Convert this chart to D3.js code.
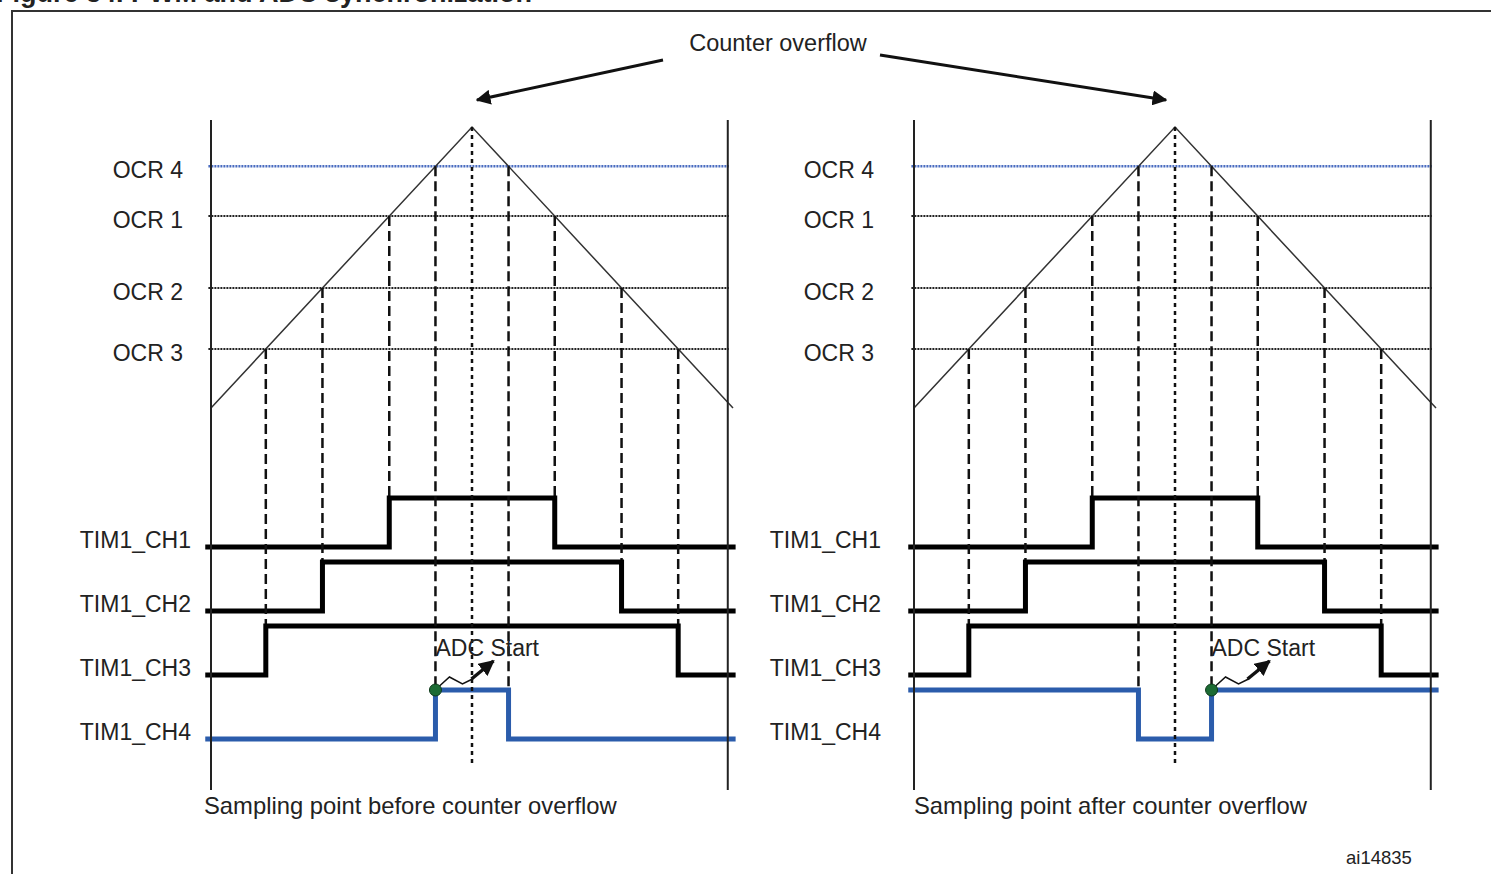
<!DOCTYPE html>
<html>
<head>
<meta charset="utf-8">
<script src="https://cdn.jsdelivr.net/npm/d3@7"></script>
<style>
body { margin: 0; background: #fff; }
text { font-family: "Liberation Sans", Arial, sans-serif; fill: #222; }
</style>
</head>
<body>
<svg id="chart" width="1491" height="874"></svg>
<script>
// values
var ocrNames = ["OCR 4", "OCR 1", "OCR 2", "OCR 3"];
var ocrValues = [86, 68.3, 42.7, 21];
var counterTime = [0, 50, 100];
var counterValue = [0, 100, 0];
var channelNames = ["TIM1_CH1", "TIM1_CH2", "TIM1_CH3", "TIM1_CH4"];
var channelOcr = ["OCR 1", "OCR 2", "OCR 3", "OCR 4"];
var panelCaptions = ["Sampling point before counter overflow", "Sampling point after counter overflow"];
var ch4Inverted = [false, true];

var width = 1491, height = 874;
var svg = d3.select("#chart");

var yCount = d3.scaleLinear().domain([0, 100]).range([408, 127]);
var ySig = d3.scalePoint().domain(channelNames).range([547, 739]);
var sigHeight = 49;
var panelRanges = [[211, 733], [914, 1436]];
var labelRight = [[183, 191], [874, 881]];

function ocrOf(name) { return ocrValues[ocrNames.indexOf(name)]; }
function crossUp(v) {
    return counterTime[0] + (v - counterValue[0]) / (counterValue[1] - counterValue[0]) * (counterTime[1] - counterTime[0]);
}
function crossDown(v) {
    return counterTime[1] + (v - counterValue[1]) / (counterValue[2] - counterValue[1]) * (counterTime[2] - counterTime[1]);
}

// frame + title (cut by the page top, as in the source)
svg.append("text")
    .attr("x", -4).attr("y", 2)
    .style("font-weight", "bold").style("font-size", "27px")
    .text("Figure 34. PWM and ADC synchronization");
svg.append("path")
    .attr("d", "M12," + height + "V11H" + width)
    .attr("fill", "none").attr("stroke", "#333").attr("stroke-width", 2);

var defs = svg.append("defs");
defs.append("marker").attr("id", "head")
    .attr("viewBox", "0 0 10 10").attr("refX", 9).attr("refY", 5)
    .attr("markerWidth", 5).attr("markerHeight", 5).attr("orient", "auto")
    .append("path").attr("d", "M0,0L10,5L0,10z").attr("fill", "#111");
defs.append("marker").attr("id", "head2")
    .attr("viewBox", "0 0 10 10").attr("refX", 9).attr("refY", 5)
    .attr("markerWidth", 4.5).attr("markerHeight", 4.5).attr("orient", "auto")
    .append("path").attr("d", "M0,0L10,5L0,10z").attr("fill", "#111");

var line = d3.line().curve(d3.curveLinear);

panelRanges.forEach(function (range, p) {
    var x = d3.scaleLinear().domain([0, 100]).range(range);
    var g = svg.append("g");

    // compare levels
    ocrNames.forEach(function (name, i) {
        var yy = yCount(ocrValues[i]);
        g.append("line")
            .attr("x1", x(-0.5)).attr("x2", x(99.2))
            .attr("y1", yy).attr("y2", yy)
            .attr("stroke", i == 0 ? "#4a6cc0" : "#222")
            .attr("stroke-width", i == 0 ? 2.5 : 2)
            .attr("stroke-dasharray", "2,1");
        g.append("text")
            .attr("x", labelRight[p][0]).attr("y", yy + 4)
            .attr("dy", "0.35em").attr("text-anchor", "end")
            .style("font-size", "23px")
            .text(name);
    });

    // counter
    g.append("path")
        .datum(counterTime.map(function (t, i) { return [t, counterValue[i]]; }))
        .attr("fill", "none").attr("stroke", "#333").attr("stroke-width", 1.5)
        .attr("d", line.x(function (d) { return x(d[0]); }).y(function (d) { return yCount(d[1]); }));

    // dashed lines + channels
    channelNames.forEach(function (ch, c) {
        var v = ocrOf(channelOcr[c]);
        var tU = crossUp(v), tD = crossDown(v);
        var lo = ySig(ch), hi = lo - sigHeight;
        var inv = (c == 3 && ch4Inverted[p]);
        var a = inv ? hi : lo, b = inv ? lo : hi;

        [tU, tD].forEach(function (t) {
            g.append("line")
                .attr("x1", x(t)).attr("x2", x(t))
                .attr("y1", yCount(v)).attr("y2", hi)
                .attr("stroke", "#111").attr("stroke-width", 2.5)
                .attr("stroke-dasharray", "10,5");
        });

        var pts = [[-1.1, a], [tU, a], [tU, b], [tD, b], [tD, a], [100.5, a]];
        g.append("path")
            .datum(pts)
            .attr("fill", "none")
            .attr("stroke", c == 3 ? "#2b5cab" : "#000")
            .attr("stroke-width", 5)
            .attr("stroke-linejoin", "miter")
            .attr("d", d3.line().x(function (d) { return x(d[0]); }).y(function (d) { return d[1]; }));

        g.append("text")
            .attr("x", labelRight[p][1]).attr("y", lo - 7)
            .attr("dy", "0.35em").attr("text-anchor", "end")
            .style("font-size", "23px")
            .text(ch);
    });

    // axes
    [0, 99].forEach(function (t) {
        g.append("line")
            .attr("x1", x(t)).attr("x2", x(t))
            .attr("y1", 120).attr("y2", 790)
            .attr("stroke", "#222").attr("stroke-width", 2);
    });

    // overflow marker
    g.append("line")
        .attr("x1", x(counterTime[1])).attr("x2", x(counterTime[1]))
        .attr("y1", yCount(counterValue[1])).attr("y2", 764)
        .attr("stroke", "#111").attr("stroke-width", 2.5)
        .attr("stroke-dasharray", "4,4");

    // ADC start on rising edge of CH4
    var v4 = ocrOf("OCR 4");
    var tAdc = ch4Inverted[p] ? crossDown(v4) : crossUp(v4);
    var ax = x(tAdc), ay = ySig("TIM1_CH4") - sigHeight;
    g.append("polyline")
        .attr("points", [[ax + 4, ay - 4], [ax + 14, ay - 13], [ax + 27, ay - 6], [ax + 37, ay - 11]].join(" "))
        .attr("fill", "none").attr("stroke", "#111").attr("stroke-width", 1.5);
    g.append("line")
        .attr("x1", ax + 36).attr("y1", ay - 11)
        .attr("x2", ax + 58).attr("y2", ay - 29)
        .attr("stroke", "#111").attr("stroke-width", 3.5)
        .attr("marker-end", "url(#head2)");
    g.append("circle")
        .attr("cx", ax).attr("cy", ay).attr("r", 6)
        .attr("fill", "#1c6b34").attr("stroke", "#0d3a1a").attr("stroke-width", 1);
    g.append("text")
        .attr("x", ax).attr("y", 656)
        .style("font-size", "23px")
        .text("ADC Start");

    g.append("text")
        .attr("x", range[0] - (p == 0 ? 7 : 0)).attr("y", 814)
        .style("font-size", "23.8px")
        .text(panelCaptions[p]);
});

// counter overflow callout
var xl = d3.scaleLinear().domain([0, 100]).range(panelRanges[0]);
var xr = d3.scaleLinear().domain([0, 100]).range(panelRanges[1]);
svg.append("text")
    .attr("x", 778).attr("y", 51).attr("text-anchor", "middle")
    .style("font-size", "23.5px")
    .text("Counter overflow");
svg.append("line")
    .attr("x1", 663).attr("y1", 60).attr("x2", xl(50) + 5).attr("y2", 100)
    .attr("stroke", "#111").attr("stroke-width", 3).attr("marker-end", "url(#head)");
svg.append("line")
    .attr("x1", 880).attr("y1", 55).attr("x2", xr(50) - 9).attr("y2", 100)
    .attr("stroke", "#111").attr("stroke-width", 3).attr("marker-end", "url(#head)");

svg.append("text")
    .attr("x", 1346).attr("y", 864)
    .style("font-size", "18.5px")
    .text("ai14835");
</script>
</body>
</html>
